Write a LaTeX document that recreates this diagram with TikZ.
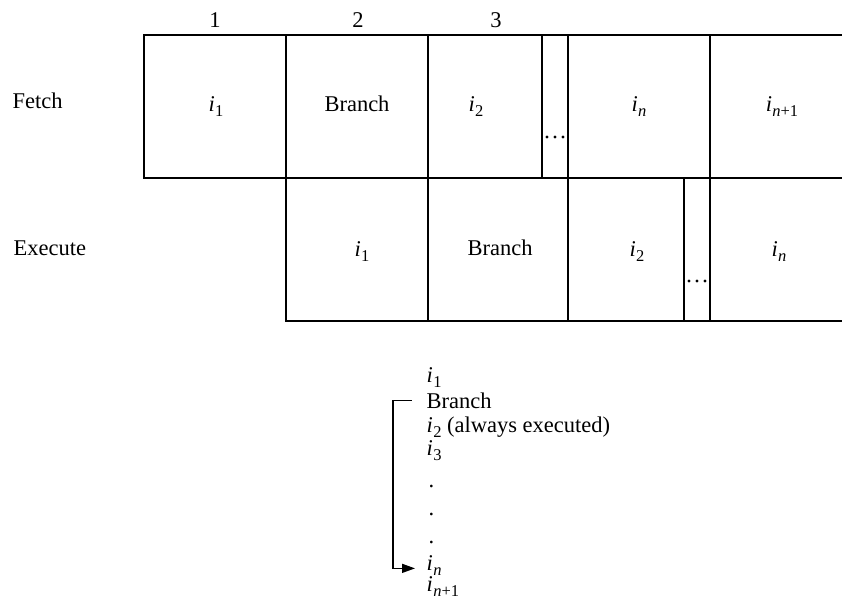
\documentclass[tikz,border=0pt]{standalone}
\usepackage{fontspec}
\setmainfont{Liberation Serif}
\usetikzlibrary{arrows.meta}
% instruction name with a lowered index: \ins{1} -> i_1
\newcommand\ins[1]{\textit{i}\kern0.3pt\raisebox{-0.25em}{\fontsize{16.5}{16.5}\selectfont #1}}
\begin{document}
\begin{tikzpicture}[x=1pt,y=-1pt,line width=1.4pt,
  every node/.style={inner sep=0pt},
  txt/.style={font=\fontsize{22.5}{26}\selectfont,anchor=base},
  rowlbl/.style={txt,anchor=base west},
  item/.style={txt,anchor=base west},
  dotgap/.style={fill,circle,minimum size=3.4pt}]
\useasboundingbox (0,0) rectangle (842,600);

% fetch row grid
\draw (842,35) -- (144,35) -- (144,178) -- (842,178);
\foreach \x in {286,428,542,568,710}
  \draw (\x,35) -- (\x,178);
% execute row grid
\draw (286,178) -- (286,321) -- (842,321);
\foreach \x in {428,568,684,710}
  \draw (\x,178) -- (\x,321);

% gap dots
\foreach \x [count=\k] in {547,555,563}
  \node[dotgap] (fd\k) at (\x,137) {};
\foreach \x [count=\k] in {689,697,705}
  \node[dotgap] (ed\k) at (\x,281) {};

% cycle numbers
\node[txt] (c1) at (215,27) {1};
\node[txt] (c2) at (358,27) {2};
\node[txt] (c3) at (496,27) {3};

% row labels
\node[rowlbl] (fetch) at (12,108) {Fetch};
\node[rowlbl] (exec) at (13,255) {Execute};

% fetch stage
\node[txt] (f1) at (216,111) {\ins{1}};
\node[txt] (f2) at (357,111) {Branch};
\node[txt] (f3) at (476,111) {\ins{2}};
\node[txt] (f4) at (639,111) {\ins{\textit{n}}};
\node[txt] (f5) at (782,111) {\ins{\textit{n}+1}};

% execute stage
\node[txt] (e1) at (362,256) {\ins{1}};
\node[txt] (e2) at (500,255) {Branch};
\node[txt] (e3) at (637,256) {\ins{2}};
\node[txt] (e4) at (779,256) {\ins{\textit{n}}};

% instruction sequence
\node[item] (l1) at (426,382) {\ins{1}};
\node[item] (l2) at (426,408) {Branch};
\node[item] (l3) at (426,432) {\ins{2} (always executed)};
\node[item] (l4) at (426,455) {\ins{3}};
\node[item] (l5) at (428,487) {.};
\node[item] (l6) at (428,515) {.};
\node[item] (l7) at (428,543) {.};
\node[item] (l8) at (426,570) {\ins{\textit{n}}};
\node[item] (l9) at (426,591) {\ins{\textit{n}+1}};

% branch target
\draw[-{Triangle[length=13pt,width=9pt]}]
  ([xshift=-14.5pt]l2.west) -- ++(-18.5,0)
  |- ([xshift=-11pt,yshift=-3pt]l8.west);
\end{tikzpicture}
\end{document}
